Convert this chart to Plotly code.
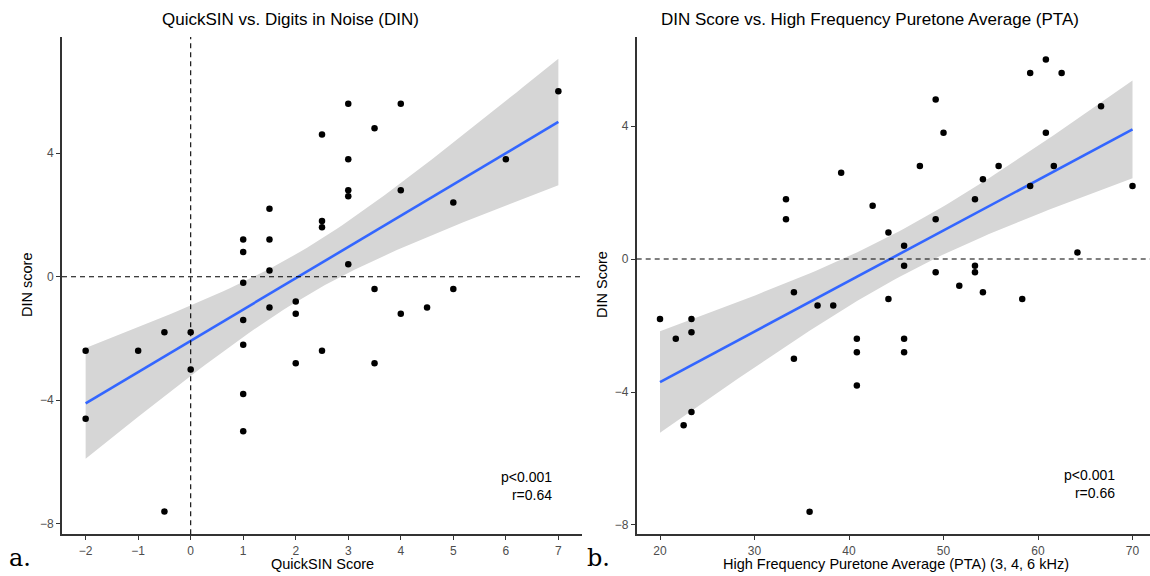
import numpy as np
import plotly.graph_objects as go

# ---------------- data ----------------
quicksin = [7, 3, 4, 2.5, 3.5, 3, 6, 3, 3, 4, 5, 1.5, 2.5, 2.5, 1, 1.5, 1, 1.5, 3, 1, 3.5, 5,
            2, 1.5, 2, 4, 4.5, 1, -0.5, 0, -2, -1, 1, 2.5, 2, 3.5, 0, 1, -2, 1, -0.5]
din_a = [6.0, 5.6, 5.6, 4.6, 4.8, 3.8, 3.8, 2.8, 2.6, 2.8, 2.4, 2.2, 1.8, 1.6, 1.2, 1.2, 0.8, 0.2, 0.4, -0.2, -0.4, -0.4,
         -0.8, -1.0, -1.2, -1.2, -1.0, -1.4, -1.8, -1.8, -2.4, -2.4, -2.2, -2.4, -2.8, -2.8, -3.0, -3.8, -4.6, -5.0, -7.6]

pta = [60.83, 59.17, 62.5, 49.17, 66.67, 50.0, 60.83, 47.5, 55.83, 61.67, 39.17, 54.17, 33.33, 53.33, 59.17, 70.0,
       42.5, 33.33, 49.17, 44.17, 45.83, 64.17, 45.83, 53.33, 49.17, 53.33, 51.67, 34.17, 54.17, 44.17, 58.33,
       36.67, 38.33, 20.0, 23.33, 23.33, 21.67, 40.83, 45.83, 40.83, 45.83, 34.17, 40.83, 23.33, 22.5, 35.83]
din_b = [6.0, 5.6, 5.6, 4.8, 4.6, 3.8, 3.8, 2.8, 2.8, 2.8, 2.6, 2.4, 1.8, 1.8, 2.2, 2.2,
         1.6, 1.2, 1.2, 0.8, 0.4, 0.2, -0.2, -0.2, -0.4, -0.4, -0.8, -1.0, -1.0, -1.2, -1.2,
         -1.4, -1.4, -1.8, -1.8, -2.2, -2.4, -2.4, -2.4, -2.8, -2.8, -3.0, -3.8, -4.6, -5.0, -7.6]

ticks_a_x = [-2, -1, 0, 1, 2, 3, 4, 5, 6, 7]
ticks_b_x = [20, 30, 40, 50, 60, 70]
ticks_y = [-8, -4, 0, 4]

titles = ["QuickSIN vs. Digits in Noise (DIN)", "DIN Score vs. High Frequency Puretone Average (PTA)"]
xtitles = ["QuickSIN Score", "High Frequency Puretone Average (PTA) (3, 4, 6 kHz)"]
ytitles = ["DIN score", "DIN Score"]
stats = ["p<0.001<br>r=0.64", "p<0.001<br>r=0.66"]
panel_labels = ["a.", "b."]

W, H = 1150, 576
FONT = "Liberation Sans, Arial, sans-serif"


def px(x):
    return x / W


def py(y):
    return 1 - y / H


def t975(df):
    z = 1.959964
    return z + (z**3 + z) / (4 * df) + (5 * z**5 + 16 * z**3 + 3 * z) / (96 * df**2)


def lm_band(x, y, n_grid=80):
    x = np.asarray(x, float)
    y = np.asarray(y, float)
    n = len(x)
    b, a = np.polyfit(x, y, 1)
    resid = y - (a + b * x)
    s = np.sqrt(np.sum(resid**2) / (n - 2))
    xbar = x.mean()
    sxx = np.sum((x - xbar) ** 2)
    g = np.linspace(x.min(), x.max(), n_grid)
    fit = a + b * g
    se = s * np.sqrt(1 / n + (g - xbar) ** 2 / sxx)
    t = t975(n - 2)
    return g, fit, fit - t * se, fit + t * se


def neg(v):
    return str(v).replace("-", "\u2212")


fig = go.Figure()

panels = [
    dict(x=quicksin, y=din_a, xa="x", ya="y"),
    dict(x=pta, y=din_b, xa="x2", ya="y2"),
]

for p in panels:
    g, fit, lo, hi = lm_band(p["x"], p["y"])
    fig.add_trace(go.Scatter(x=np.concatenate([g, g[::-1]]), y=np.concatenate([hi, lo[::-1]]),
                             fill="toself", fillcolor="#D6D6D6", line=dict(width=0),
                             mode="lines", hoverinfo="skip", showlegend=False,
                             xaxis=p["xa"], yaxis=p["ya"]))
    fig.add_trace(go.Scatter(x=g, y=fit, mode="lines", line=dict(color="#3366FF", width=2.6),
                             showlegend=False, xaxis=p["xa"], yaxis=p["ya"]))
    fig.add_trace(go.Scatter(x=p["x"], y=p["y"], mode="markers",
                             marker=dict(color="black", size=6.5), showlegend=False,
                             xaxis=p["xa"], yaxis=p["ya"]))

axis_common = dict(showgrid=False, zeroline=False, showline=True, linecolor="#333333", linewidth=1.6,
                   ticks="outside", ticklen=4, tickcolor="#333333", tickwidth=1.2,
                   tickfont=dict(family=FONT, size=12, color="#4D4D4D"))

ydom = [py(534.3), py(37)]
fig.update_layout(
    width=W, height=H,
    margin=dict(l=0, r=0, t=0, b=0),
    paper_bgcolor="white", plot_bgcolor="white",
    font=dict(family=FONT),
    xaxis=dict(domain=[px(62), px(582)], range=[-2.45, 7.45], tickvals=ticks_a_x,
               ticktext=[neg(v) for v in ticks_a_x], anchor="y", **axis_common),
    yaxis=dict(domain=ydom, range=[-8.337, 7.757], tickvals=ticks_y,
               ticktext=[neg(v) for v in ticks_y], anchor="x", **axis_common),
    xaxis2=dict(domain=[px(636.7), 1.0], range=[17.534, 71.85], tickvals=ticks_b_x, anchor="y2", **axis_common),
    yaxis2=dict(domain=ydom, range=[-8.28, 6.68], tickvals=ticks_y,
                ticktext=[neg(v) for v in ticks_y], anchor="x2", **axis_common),
)

dash = "5px,4px"
fig.add_shape(type="line", xref="x domain", yref="y", x0=0, x1=1, y0=0, y1=0,
              line=dict(color="black", width=1.1, dash=dash))
fig.add_shape(type="line", xref="x", yref="y domain", x0=0, x1=0, y0=0, y1=1,
              line=dict(color="black", width=1.1, dash=dash))
fig.add_shape(type="line", xref="x2 domain", yref="y2", x0=0, x1=1, y0=0, y1=0,
              line=dict(color="black", width=1.1, dash=dash))

ann = []
# titles
ann.append(dict(x=px(290), y=py(19), text=titles[0], font=dict(size=17, color="black")))
ann.append(dict(x=px(870), y=py(19), text=titles[1], font=dict(size=17, color="black")))
# x titles
ann.append(dict(x=px(322), y=py(564), text=xtitles[0], font=dict(size=14.5, color="black")))
ann.append(dict(x=px(896), y=py(564), text=xtitles[1], font=dict(size=14.5, color="black")))
# y titles
ann.append(dict(x=px(27), y=py(285), text=ytitles[0], textangle=-90, font=dict(size=14.5, color="black")))
ann.append(dict(x=px(602), y=py(285), text=ytitles[1], textangle=-90, font=dict(size=14.5, color="black")))
# stats
ann.append(dict(x=px(554), y=py(486), text=stats[0], xanchor="right", align="right",
                font=dict(size=14, color="black")))
ann.append(dict(x=px(1117), y=py(484), text=stats[1], xanchor="right", align="right",
                font=dict(size=14, color="black")))
# panel labels
ann.append(dict(x=px(20), y=py(558), text=panel_labels[0],
                font=dict(size=24, color="black", family="DejaVu Serif, Liberation Serif, serif")))
ann.append(dict(x=px(598), y=py(558), text=panel_labels[1],
                font=dict(size=24, color="black", family="DejaVu Serif, Liberation Serif, serif")))

for a in ann:
    a.setdefault("xanchor", "center")
    a.update(xref="paper", yref="paper", yanchor="middle", showarrow=False)
    a["font"].setdefault("family", FONT)
fig.update_layout(annotations=ann)

fig.write_html("out.html", config={"displayModeBar": False})

# remove default page margins so the figure sits at the window's top-left corner
with open("out.html", "r", encoding="utf-8") as f:
    html = f.read()
html = html.replace("<head>", "<head><style>html,body{margin:0;padding:0;overflow:hidden;}</style>", 1)
with open("out.html", "w", encoding="utf-8") as f:
    f.write(html)
